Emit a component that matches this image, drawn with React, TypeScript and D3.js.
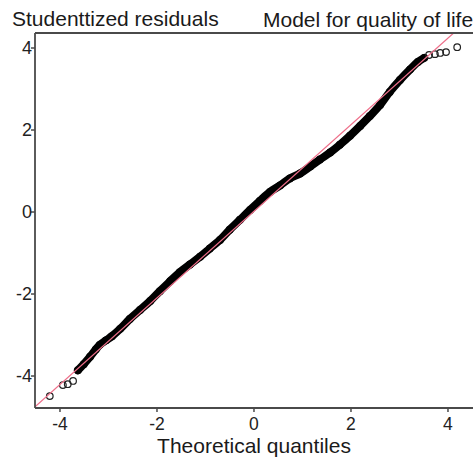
import React from 'react';
import * as d3 from 'd3';

// theoretical vs studentized residual quantiles
const bandTheo = [-3.63, -3.51, -3.38, -3.26, -3.18, -3.05, -2.93, -2.76, -2.56, -2.35, -2.14, -1.94, -1.73, -1.53, -1.32, -1.11, -0.91, -0.70, -0.50, -0.29, -0.08, 0.12, 0.33, 0.54, 0.74, 0.95, 1.16, 1.36, 1.57, 1.77, 1.98, 2.19, 2.39, 2.60, 2.80, 3.01, 3.22, 3.38, 3.51];
const bandResid = [-3.86, -3.71, -3.53, -3.35, -3.24, -3.13, -3.03, -2.85, -2.61, -2.39, -2.17, -1.93, -1.69, -1.47, -1.28, -1.09, -0.89, -0.68, -0.43, -0.19, 0.05, 0.27, 0.49, 0.65, 0.82, 0.94, 1.11, 1.28, 1.45, 1.64, 1.86, 2.10, 2.34, 2.61, 2.93, 3.22, 3.48, 3.66, 3.76];
const tailTheo = [-4.21, -3.94, -3.84, -3.73, 3.61, 3.73, 3.84, 3.96, 4.19];
const tailResid = [-4.49, -4.22, -4.20, -4.12, 3.83, 3.85, 3.88, 3.90, 4.02];

const xTicks = [-4, -2, 0, 2, 4];
const yTicks = [-4, -2, 0, 2, 4];

// qqline through the quartiles
const lineSlope = 1.056;
const lineIntercept = 0.018;

const W = 473;
const H = 458;
const left = 35;
const top = 33;
const bottom = 408;

export default function App() {
  const x = d3.scaleLinear().domain([-4.515, 4.6]).range([left, left + 48.5 * 9.115]);
  const y = d3.scaleLinear().domain([-4.78, 4.366]).range([bottom, top]);

  const band = bandTheo.map((t, i) => [t, bandResid[i]] as [number, number]);
  const tails = tailTheo.map((t, i) => [t, tailResid[i]] as [number, number]);

  const bandPath = d3
    .line<[number, number]>()
    .x(d => x(d[0]))
    .y(d => y(d[1]))
    .curve(d3.curveCatmullRom)(band);

  // line from left edge until it leaves the top of the frame
  const x0 = x.domain()[0];
  const x1 = (y.domain()[1] - lineIntercept) / lineSlope;

  const font = "'Liberation Sans', Arial, sans-serif";
  const axisCol = '#4a4a4a';

  return (
    <div style={{ position: 'fixed', left: 0, top: 0 }}>
      <svg width={W} height={H} style={{ display: 'block', background: '#fff' }} fontFamily={font}>
        <defs>
          <clipPath id="plotArea">
            <rect x={left} y={top} width={W - left} height={bottom - top} />
          </clipPath>
        </defs>

        <text x={12} y={26} fontSize={21} fill="#1a1a1a">Studenttized residuals</text>
        <text x={263} y={27} fontSize={21} fill="#1a1a1a">Model for quality of life</text>

        <g clipPath="url(#plotArea)">
          <path d={bandPath || ''} fill="none" stroke="#000" strokeWidth={8}
            strokeLinecap="round" strokeLinejoin="round" />
          {band.map((d, i) => (
            <circle key={'b' + i} cx={x(d[0])} cy={y(d[1])} r={3.3} fill="none" stroke="#000" strokeWidth={1.3} />
          ))}
          {tails.map((d, i) => (
            <circle key={'t' + i} cx={x(d[0])} cy={y(d[1])} r={3.3} fill="none" stroke="#222" strokeWidth={1.2} />
          ))}
          <line
            x1={x(x0)} y1={y(lineIntercept + lineSlope * x0)}
            x2={x(x1)} y2={y(lineIntercept + lineSlope * x1)}
            stroke="#ee6f8a" strokeWidth={1.2}
          />
        </g>

        {/* frame: top, left and bottom edges */}
        <line x1={left} y1={top} x2={W} y2={top} stroke={axisCol} strokeWidth={1.8} />
        <line x1={left} y1={top} x2={left} y2={bottom} stroke={axisCol} strokeWidth={1.8} />
        <line x1={left} y1={bottom} x2={W} y2={bottom} stroke={axisCol} strokeWidth={1.8} />

        {yTicks.map(t => (
          <g key={'y' + t}>
            <line x1={left - 4} x2={left} y1={y(t)} y2={y(t)} stroke={axisCol} strokeWidth={1.5} />
            <text x={left - 3} y={y(t)} dy="0.36em" textAnchor="end" fontSize={18} fill="#222">{t}</text>
          </g>
        ))}
        {xTicks.map(t => (
          <g key={'x' + t}>
            <line x1={x(t)} x2={x(t)} y1={bottom} y2={bottom + 4} stroke={axisCol} strokeWidth={1.5} />
            <text x={x(t)} y={430} textAnchor="middle" fontSize={17.5} fill="#222">{t}</text>
          </g>
        ))}

        <text x={254} y={453} textAnchor="middle" fontSize={21} fill="#1a1a1a">Theoretical quantiles</text>
      </svg>
    </div>
  );
}
